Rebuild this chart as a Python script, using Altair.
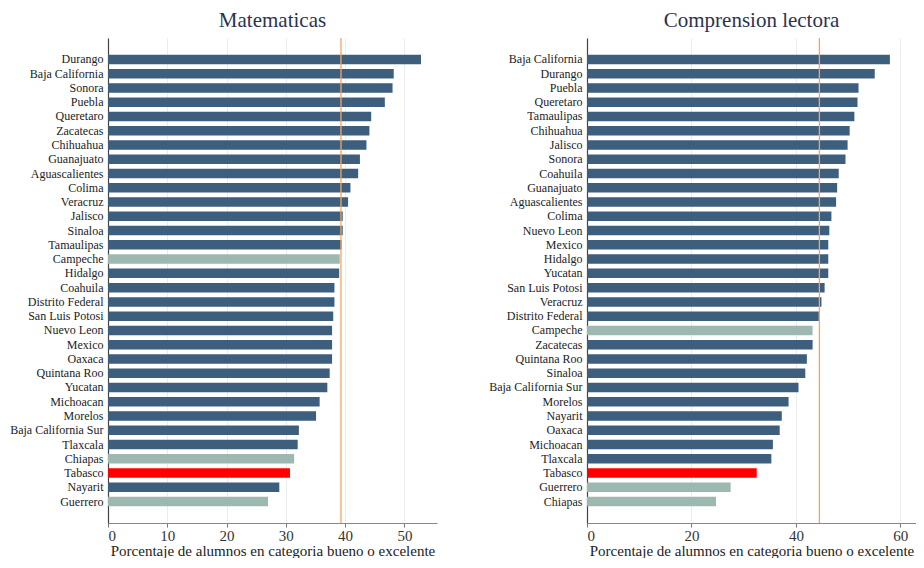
import altair as alt
import pandas as pd

# ---- data ----
mat_states = ["Durango", "Baja California", "Sonora", "Puebla", "Queretaro", "Zacatecas",
              "Chihuahua", "Guanajuato", "Aguascalientes", "Colima", "Veracruz", "Jalisco",
              "Sinaloa", "Tamaulipas", "Campeche", "Hidalgo", "Coahuila", "Distrito Federal",
              "San Luis Potosi", "Nuevo Leon", "Mexico", "Oaxaca", "Quintana Roo", "Yucatan",
              "Michoacan", "Morelos", "Baja California Sur", "Tlaxcala", "Chiapas", "Tabasco",
              "Nayarit", "Guerrero"]
mat_values = [52.8, 48.2, 48.0, 46.7, 44.4, 44.1, 43.6, 42.5, 42.2, 40.9, 40.5, 39.6,
              39.6, 39.4, 39.1, 39.0, 38.2, 38.2, 38.0, 37.8, 37.8, 37.8, 37.4, 37.0,
              35.7, 35.1, 32.2, 32.0, 31.4, 30.7, 28.9, 27.0]
mat_mean = 39.3

lec_states = ["Baja California", "Durango", "Puebla", "Queretaro", "Tamaulipas", "Chihuahua",
              "Jalisco", "Sonora", "Coahuila", "Guanajuato", "Aguascalientes", "Colima",
              "Nuevo Leon", "Mexico", "Hidalgo", "Yucatan", "San Luis Potosi", "Veracruz",
              "Distrito Federal", "Campeche", "Zacatecas", "Quintana Roo", "Sinaloa",
              "Baja California Sur", "Morelos", "Nayarit", "Oaxaca", "Michoacan", "Tlaxcala",
              "Tabasco", "Guerrero", "Chiapas"]
lec_values = [58.0, 55.1, 52.0, 51.8, 51.2, 50.3, 49.9, 49.5, 48.2, 47.9, 47.7, 46.8,
              46.4, 46.2, 46.2, 46.2, 45.5, 44.9, 44.4, 43.2, 43.2, 42.1, 41.8,
              40.5, 38.6, 37.3, 36.9, 35.6, 35.3, 32.5, 27.5, 24.7]
lec_mean = 44.5

focus_state = "Tabasco"
peer_states = ["Campeche", "Chiapas", "Guerrero"]

group_names = ["other", "peer", "focus"]
group_colors = ["#3e5e7d", "#9cb8b0", "#ff0000"]

FONT = "Liberation Serif"
W, H = 329, 485


def group_of(s):
    if s == focus_state:
        return "focus"
    if s in peer_states:
        return "peer"
    return "other"


def panel(title, states, values, mean, xmax, ticks):
    df = pd.DataFrame({"state": states, "value": values,
                       "group": [group_of(s) for s in states]})
    bars = alt.Chart(df).mark_bar(size=9.5).encode(
        y=alt.Y("state:N", sort=states, title=None,
                scale=alt.Scale(paddingInner=0, paddingOuter=1),
                axis=alt.Axis(ticks=False, labelPadding=5, labelFont=FONT,
                              labelFontSize=12, labelColor="#222222",
                              domainColor="#444444", domainWidth=1.2, grid=False)),
        x=alt.X("value:Q", title="Porcentaje de alumnos en categoria bueno o excelente",
                scale=alt.Scale(domain=[0, xmax], nice=False, zero=True),
                axis=alt.Axis(values=ticks, format="d", labelFont=FONT, labelFontSize=15,
                              labelColor="#333333", titleFont=FONT, titleFontSize=15,
                              titleFontWeight="normal", titleColor="#222222",
                              titlePadding=0, labelPadding=1, tickSize=4,
                              tickColor="#777777", domainColor="#888888",
                              grid=True, gridColor="#ececec", gridWidth=1)),
        color=alt.Color("group:N", scale=alt.Scale(domain=group_names, range=group_colors),
                        legend=None),
    )
    rule = alt.Chart(pd.DataFrame({"m": [mean]})).mark_rule(
        color="#f5a55f", strokeWidth=1.3).encode(x="m:Q")
    return alt.layer(bars, rule).properties(
        width=W, height=H,
        title=alt.TitleParams(title, font=FONT, fontSize=21, fontWeight="normal",
                              color="#2a3352", offset=6, anchor="middle"))


left = panel("Matematicas", mat_states, mat_values, mat_mean, 55.5, [0, 10, 20, 30, 40, 50])
right = panel("Comprension lectora", lec_states, lec_values, lec_mean, 63.0, [0, 20, 40, 60])

chart = alt.hconcat(left, right, spacing=51).properties(
    padding={"left": 1, "right": 0, "top": 2, "bottom": 0}
).configure_view(stroke=None)

chart.save("out.html", embed_options={"renderer": "svg", "actions": False})
